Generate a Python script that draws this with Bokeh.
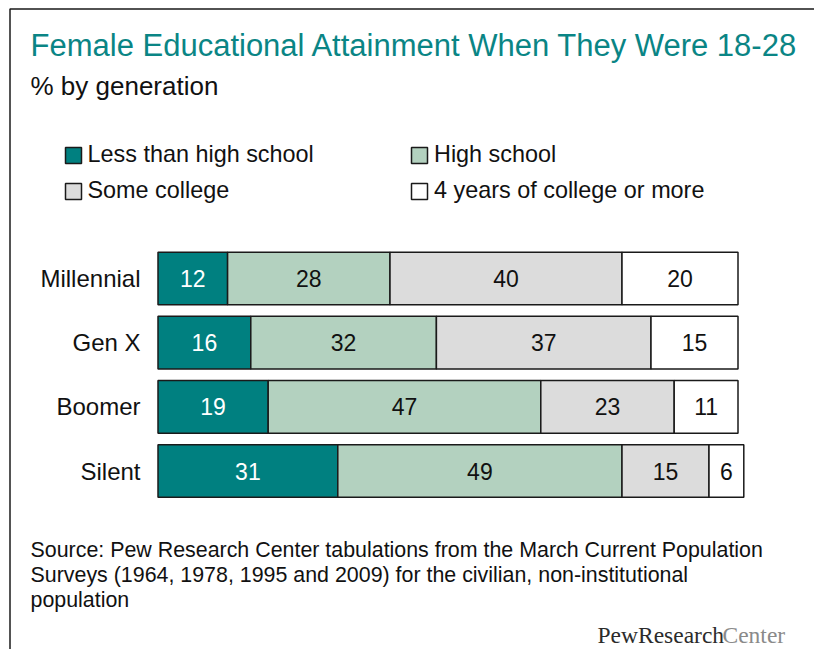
import numpy as np
from bokeh.plotting import figure
from bokeh.models import ColumnDataSource, Label, Legend, LegendItem, Range1d, BoxAnnotation
from bokeh.core.properties import value
from bokeh.embed import file_html
from bokeh.resources import INLINE

# ---- data ----
generations = ["Millennial", "Gen X", "Boomer", "Silent"]
less_than_hs = [12, 16, 19, 31]
high_school = [28, 32, 47, 49]
some_college = [40, 37, 23, 15]
college_4yr = [20, 15, 11, 6]
series_names = ["Less than high school", "High school", "Some college", "4 years of college or more"]
series_keys = ["lths", "hs", "sc", "c4"]
colors = ["#008080", "#b3d1bf", "#dcdcdc", "#ffffff"]
label_colors = ["#ffffff", "#111111", "#111111", "#111111"]

title_text = "Female Educational Attainment When They Were 18-28"
subtitle_text = "% by generation"
source_lines = [
    "Source: Pew Research Center tabulations from the March Current Population",
    "Surveys (1964, 1978, 1995 and 2009) for the civilian, non-institutional",
    "population",
]

FONT = "Liberation Sans"
W, H = 814, 649

def sx(ix):
    return ix

def sy(iy):
    return H - iy

idx = np.arange(len(generations))
src = ColumnDataSource(dict(idx=idx, lths=less_than_hs, hs=high_school,
                            sc=some_college, c4=college_4yr))

px_per_unit = 5.8
x0_px = 157.5
pitch = 64.17
y0_img = 278.0

p = figure(width=W, height=H, output_backend="svg", toolbar_location=None,
           x_range=Range1d(-x0_px / px_per_unit, (W - x0_px) / px_per_unit),
           y_range=Range1d((H - y0_img) / pitch, (0 - y0_img) / pitch),
           min_border=0, min_border_left=0, min_border_right=0,
           min_border_top=0, min_border_bottom=0)
p.axis.visible = False
p.grid.visible = False
p.outline_line_color = None
p.background_fill_color = "white"
p.border_fill_color = "white"

renderers = p.hbar_stack(series_keys, y="idx", height=0.82, color=colors,
                         line_color="#1a1a1a", line_width=1.5, source=src)

# segment value labels
vals = np.array([less_than_hs, high_school, some_college, college_4yr], dtype=float)
cum = np.cumsum(vals, axis=0)
mids = cum - vals / 2
for k in range(4):
    p.text(x=mids[k], y=idx, text=[str(v) for v in vals[k].astype(int)],
           text_align="center", text_baseline="middle",
           text_font=value(FONT), text_font_size="23px", text_color=label_colors[k])

# category labels
p.text(x=np.zeros(len(idx)), y=idx, text=generations, x_offset=-17.5,
       text_align="right", text_baseline="middle",
       text_font=value(FONT), text_font_size="24px", text_color="#111111")

# legends (two columns)
items1 = [LegendItem(label=series_names[0], renderers=[renderers[0]]),
          LegendItem(label=series_names[2], renderers=[renderers[2]])]
items2 = [LegendItem(label=series_names[1], renderers=[renderers[1]]),
          LegendItem(label=series_names[3], renderers=[renderers[3]])]
for items, lx in ((items1, 62.5), (items2, 409)):
    lg = Legend(items=items, location=(sx(lx), sy(204)), orientation="vertical",
                margin=0, padding=0, spacing=9, border_line_color=None,
                background_fill_alpha=0, glyph_width=20, glyph_height=20,
                label_standoff=5, label_text_font=FONT, label_text_font_size="23.4px",
                label_text_color="#111111", label_height=20)
    p.add_layout(lg, "center")

def add_label(x, y, text, size, color="#111111", font=FONT):
    p.add_layout(Label(x=sx(x), y=sy(y), x_units="screen", y_units="screen", text=text,
                       text_font=font, text_font_size=size, text_color=color,
                       text_baseline="middle"))

add_label(30, 45, title_text, "31px", "#0a8585")
add_label(30, 85, subtitle_text, "26px")
for i, line in enumerate(source_lines):
    add_label(30, 549 + 25 * i, line, "21.4px")
add_label(597, 634, "PewResearch", "23.5px", "#2b2b2b", "Liberation Serif")
add_label(722, 634, "Center", "23.5px", "#8a8a8a", "Liberation Serif")

# frame border: only left and top edges visible (box extends past the canvas)
p.add_layout(BoxAnnotation(left=9.5, right=W + 60, top=H - 8.5, bottom=-60,
                           left_units="screen", right_units="screen",
                           top_units="screen", bottom_units="screen",
                           fill_alpha=0, fill_color=None,
                           line_color="#1a1a1a", line_alpha=1.0, line_width=1.5,
                           level="overlay"))

open("out.html", "w").write(file_html(p, INLINE))
